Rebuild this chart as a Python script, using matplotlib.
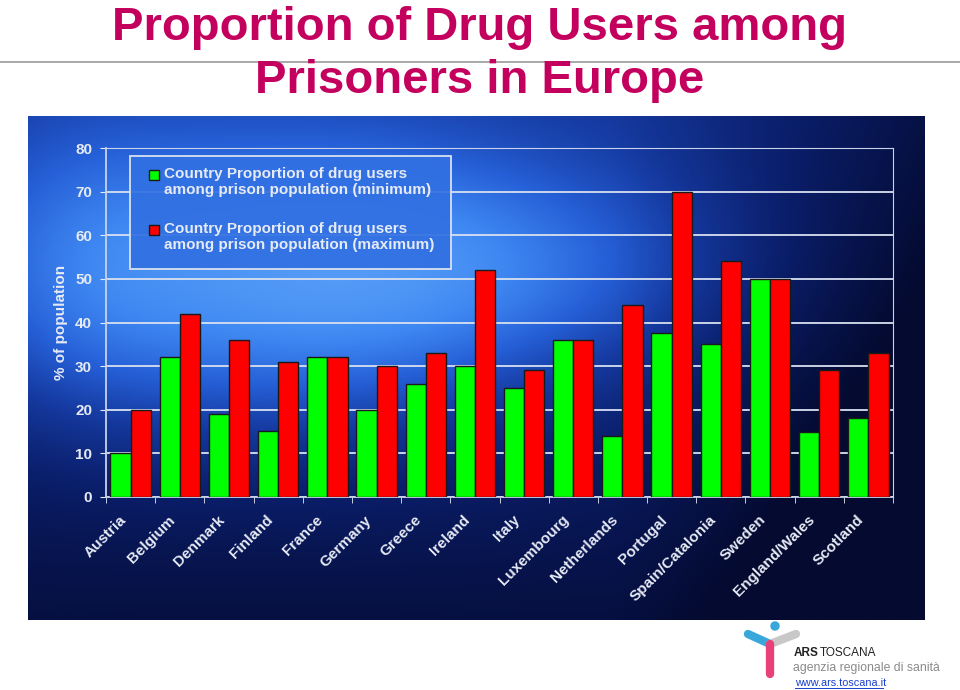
import numpy as np
import matplotlib
matplotlib.use("Agg")
import matplotlib.pyplot as plt
from matplotlib.patches import Rectangle
from matplotlib.colors import LinearSegmentedColormap

plt.rcParams.update({
    "font.family": ["Liberation Sans", "DejaVu Sans"],
    "font.weight": "bold",
})

# ── Data ──────────────────────────────────────────────────────────────────────
countries = ["Austria", "Belgium", "Denmark", "Finland", "France", "Germany",
             "Greece", "Ireland", "Italy", "Luxembourg", "Netherlands",
             "Portugal", "Spain/Catalonia", "Sweden", "England/Wales", "Scotland"]
min_share = [10, 32, 19, 15.2, 32, 20, 26, 30, 25, 36, 14, 37.5, 35, 50, 15, 18]
max_share = [20, 42, 36, 31, 32, 30, 33, 52, 29, 36, 44, 70, 54, 50, 29, 33]
y_ticks = [0, 10, 20, 30, 40, 50, 60, 70, 80]

label_min = "Country Proportion of drug users\namong prison population (minimum)"
label_max = "Country Proportion of drug users\namong prison population (maximum)"

TITLE_COLOR = "#C4005E"
GREEN = "#00FF00"
RED = "#FF0000"
TEXT = "#E6EAF5"
W, H = 960, 690


def px(x, y):
    """pixel position (from top-left) -> figure fraction"""
    return x / W, 1 - y / H


fig = plt.figure(figsize=(9.6, 6.9), dpi=100)
fig.patch.set_facecolor("white")

# ── Title ─────────────────────────────────────────────────────────────────────
fig.text(*px(480, 40), "Proportion of Drug Users among", ha="center", va="baseline",
         fontsize=34, color=TITLE_COLOR, fontweight="bold")
fig.text(*px(480, 93), "Prisoners in Europe", ha="center", va="baseline",
         fontsize=34, color=TITLE_COLOR, fontweight="bold")
fig.add_artist(plt.Line2D([0, 1], [px(0, 62)[1]] * 2, color="#9a9a9a", lw=1.2, zorder=0))

# ── Background panel (slide image) ────────────────────────────────────────────
bg = fig.add_axes([28 / W, 1 - 620 / H, 897 / W, 504 / H])
bg.set_axis_off()
yy, xx = np.mgrid[0:1:300j, 0:1:500j]
glow = (1.0 * np.exp(-(((xx - 0.3) / 0.3) ** 2 + ((yy - 0.33) / 0.3) ** 2))
        + 0.35 * np.exp(-(((xx - 0.55) / 0.25) ** 2 + ((yy - 0.3) / 0.2) ** 2))
        + 0.35 * np.exp(-(((xx - 0.05) / 0.15) ** 2 + ((yy - 0.3) / 0.3) ** 2)))
glow = glow - 0.45 * yy - 0.6 * np.clip(xx - 0.65, 0, None) ** 1.2 * 2.5
bg_cmap = LinearSegmentedColormap.from_list(
    "slide", ["#040a30", "#0a1d68", "#15399f", "#2660d8", "#3f88f2", "#5aa0f8"])
bg.imshow(glow, cmap=bg_cmap, aspect="auto", extent=[0, 1, 1, 0], vmin=-0.55, vmax=1.1)

# ── Bar chart ─────────────────────────────────────────────────────────────────
ax = fig.add_axes([106 / W, 1 - 497 / H, 787 / W, 349 / H])
ax.patch.set_alpha(0)
x = np.arange(len(countries))
w = 0.41
ax.bar(x - w / 2, min_share, w, color=GREEN, edgecolor="#1a1a1a", lw=1, zorder=3)
ax.bar(x + w / 2, max_share, w, color=RED, edgecolor="#1a1a1a", lw=1, zorder=3)

ax.set_xlim(-0.5, len(countries) - 0.5)
ax.set_ylim(0, 80)
ax.set_yticks(y_ticks)
ax.set_yticklabels([str(t) for t in y_ticks], color=TEXT, fontsize=11, fontweight="bold")
ax.yaxis.grid(True, color="#d8e0f0", lw=1.3, zorder=0)
ax.tick_params(axis="y", length=4, color=TEXT, pad=6)

# labels sit a little left of the group centre, as on the slide
ax.set_xticks(np.arange(len(countries) + 1) - 0.5, minor=True)
ax.set_xticks(x - 0.14)
ax.set_xticklabels(countries, rotation=45, ha="right", va="center", rotation_mode="anchor",
                   color=TEXT, fontsize=11, fontweight="bold")
ax.tick_params(axis="x", which="major", length=0, pad=15)
ax.tick_params(axis="x", which="minor", length=4, color=TEXT, direction="out")

for side in ["left", "bottom", "top", "right"]:
    ax.spines[side].set_color("#c8d2ea")
    ax.spines[side].set_linewidth(1.3)
ax.spines["top"].set_linewidth(0.8)
ax.spines["right"].set_linewidth(0.8)

ax.set_ylabel("% of population", color=TEXT, fontsize=11, fontweight="bold", labelpad=5)

# ── Legend box (drawn by hand, marker aligned with first text line) ───────────
x0, y0 = px(130, 269)
x1, y1 = px(451, 156)
fig.add_artist(Rectangle((x0, y0), x1 - x0, y1 - y0, transform=fig.transFigure,
                         facecolor="#3170e2", alpha=0.92, edgecolor="none", zorder=2))
fig.add_artist(Rectangle((x0, y0), x1 - x0, y1 - y0, transform=fig.transFigure,
                         facecolor="none", edgecolor="#d8e0f0", lw=1.3, zorder=3))
for color, text, ty in [(GREEN, label_min, 175), (RED, label_max, 230)]:
    mx, my = px(149, ty + 5)
    fig.add_artist(Rectangle((mx, my), 10 / W, 10 / H, transform=fig.transFigure,
                             facecolor=color, edgecolor="#1a1a1a", lw=1, zorder=3))
    fig.text(*px(164, ty - 8), text, ha="left", va="top", fontsize=11,
             color=TEXT, fontweight="bold", linespacing=1.2, zorder=4)

# ── Logo ──────────────────────────────────────────────────────────────────────
lg = fig.add_axes([740 / W, 0, 220 / W, 70 / H])
lg.set_xlim(0, 220)
lg.set_ylim(70, 0)
lg.set_axis_off()
lg.plot([8, 30], [14, 24], color="#38a8dc", lw=6, solid_capstyle="round")
lg.plot([30, 56], [24, 14], color="#c8c8c8", lw=6, solid_capstyle="round")
lg.plot([30, 30], [24, 54], color="#e8407a", lw=6, solid_capstyle="round")
lg.add_patch(plt.Circle((35, 6), 4, color="#38a8dc"))
lg.text(54, 33, "ARS", fontsize=8.5, fontweight="bold", color="#222222", va="center")
lg.text(80, 33, "TOSCANA", fontsize=8.5, fontweight="normal", color="#222222", va="center")
lg.text(53, 48, "agenzia regionale di sanità", fontsize=8.8, fontweight="normal",
        color="#8a8a8a", va="center")
lg.text(55, 63, "www.ars.toscana.it", fontsize=7.8, fontweight="normal",
        color="#1a3fd0", va="center")
lg.plot([55, 143], [67.5, 67.5], color="#1a3fd0", lw=0.7)

fig.savefig("out.png", dpi=100, facecolor="white")
